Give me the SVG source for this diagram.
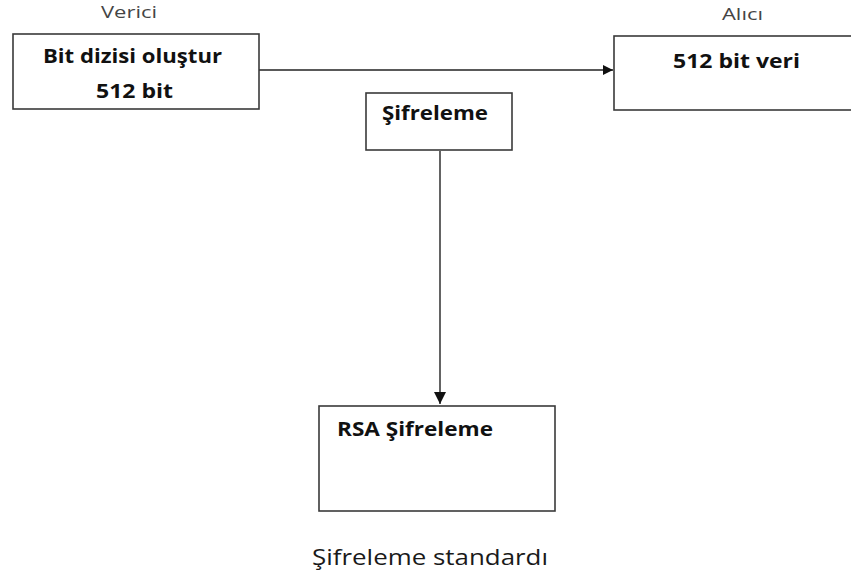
<svg xmlns="http://www.w3.org/2000/svg" width="851" height="580" viewBox="0 0 851 580">
<defs>
<style>
.box{fill:#fff;stroke:#3a3a3a;stroke-width:1.6}
.lbl{font-family:"Open Sans","Liberation Sans",sans-serif;font-size:16px;fill:#444}
.bt{font-family:"Open Sans","Liberation Sans",sans-serif;font-weight:bold;font-size:20px;fill:#111}
.cap{font-family:"Open Sans","Liberation Sans",sans-serif;font-size:21px;fill:#1a1a1a}
.line{stroke:#222;stroke-width:1.4;fill:none}
</style>
<marker id="ah" viewBox="0 0 10 10" refX="10" refY="5" markerWidth="10" markerHeight="10" markerUnits="userSpaceOnUse" orient="auto">
<path d="M0,0 L10,5 L0,10 z" fill="#111"/>
</marker>
<marker id="ahd" viewBox="0 0 12 12" refX="12" refY="6" markerWidth="12" markerHeight="13" markerUnits="userSpaceOnUse" orient="auto">
<path d="M0,0 L12,6 L0,12 z" fill="#111"/>
</marker>
</defs>
<rect width="851" height="580" fill="#fff"/>
<text class="lbl" x="101" y="18" textLength="56" lengthAdjust="spacingAndGlyphs">Verici</text>
<text class="lbl" x="722" y="20" textLength="41" lengthAdjust="spacingAndGlyphs">Alıcı</text>
<g id="connectors">
<line class="line" x1="259" y1="70" x2="613" y2="70" marker-end="url(#ah)"/>
<line class="line" x1="440" y1="151" x2="440" y2="404" marker-end="url(#ahd)"/>
</g>
<g id="verici">
<rect class="box" x="13" y="34" width="246" height="75"/>
<text class="bt" x="43" y="63" textLength="179" lengthAdjust="spacingAndGlyphs">Bit dizisi oluştur</text>
<text class="bt" x="96" y="98" textLength="77" lengthAdjust="spacingAndGlyphs">512 bit</text>
</g>
<g id="alici">
<rect class="box" x="614" y="36" width="250" height="74"/>
<text class="bt" x="673" y="68" textLength="127" lengthAdjust="spacingAndGlyphs">512 bit veri</text>
</g>
<g id="sifreleme">
<rect class="box" x="366" y="93" width="146" height="57"/>
<text class="bt" x="382" y="120" textLength="106" lengthAdjust="spacingAndGlyphs">Şifreleme</text>
</g>
<g id="rsa">
<rect class="box" x="319" y="406" width="236" height="105"/>
<text class="bt" x="337" y="436" textLength="156" lengthAdjust="spacingAndGlyphs">RSA Şifreleme</text>
</g>
<text class="cap" x="312" y="565" textLength="236" lengthAdjust="spacingAndGlyphs">Şifreleme standardı</text>
</svg>
